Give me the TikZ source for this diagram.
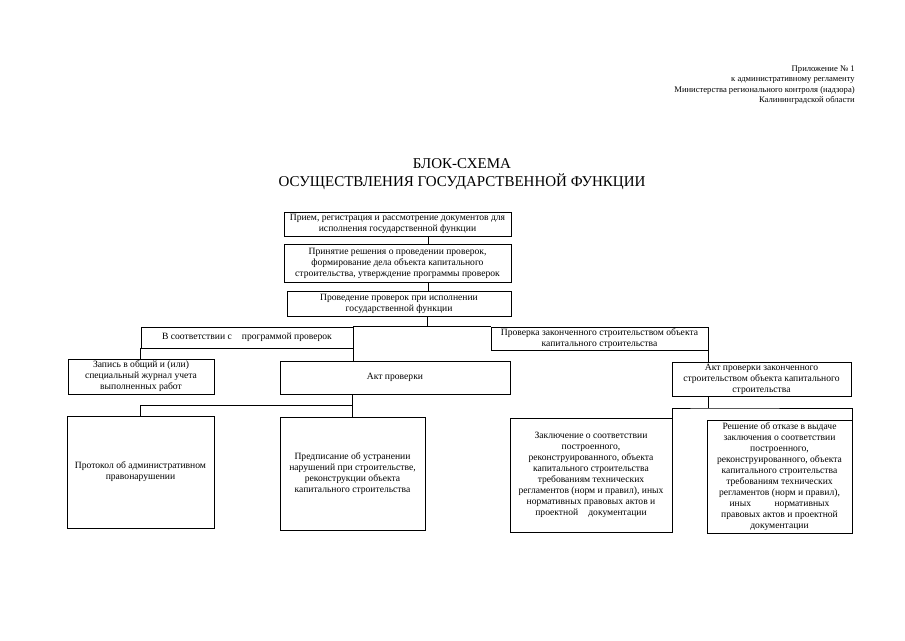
\documentclass[tikz,border=0pt]{standalone}
\usepackage{fontspec}
\setmainfont{Liberation Serif}
\usepackage{tikz}

\begin{document}
\begin{tikzpicture}[x=1pt, y=-1pt, line width=0.6pt,
  blk/.style={draw, align=center, inner sep=1pt, font=\fontsize{9.6}{11}\selectfont}]
  \useasboundingbox (0,0) rectangle (905,640);

  \node[align=right, anchor=north east, inner sep=0pt, font=\fontsize{8.6}{10.3}\selectfont]
    (hdr) at (855,65.5) {Приложение № 1\\к административному регламенту\\Министерства регионального контроля (надзора)\\Калининградской области};
  \node[align=center, font=\fontsize{15}{18}\selectfont]
    (ttl) at (462,174) {БЛОК-СХЕМА\\ОСУЩЕСТВЛЕНИЯ ГОСУДАРСТВЕННОЙ ФУНКЦИИ};

  \node[blk, minimum width=227, minimum height=24] (b1) at (397.5,224)
    {Прием, регистрация и рассмотрение документов для\\исполнения государственной функции};
  \node[blk, minimum width=227, minimum height=38] (b2) at (397.5,263)
    {Принятие решения о проведении проверок,\\формирование дела объекта капитального\\строительства, утверждение программы проверок};
  \node[blk, minimum width=224, minimum height=25] (b3) at (399,303.5)
    {Проведение проверок при исполнении\\государственной функции};

  \node[blk, minimum width=212, minimum height=21] (vs) at (247,337.5)
    {В соответствии с\hspace{0.8em} программой проверок};
  \node[blk, minimum width=217, minimum height=23] (pz) at (599.5,338.5)
    {Проверка законченного строительством объекта\\капитального строительства};

  \node[blk, minimum width=146, minimum height=35] (zap) at (141,376.5)
    {Запись в общий и (или)\\специальный журнал учета\\выполненных работ};
  \node[blk, minimum width=230, minimum height=33] (akt) at (395,377.5)
    {Акт проверки};
  \node[blk, minimum width=179, minimum height=34] (aktz) at (761.5,379)
    {Акт проверки законченного\\строительством объекта капитального\\строительства};

  \node[blk, minimum width=147, minimum height=112] (prot) at (140.5,472)
    {Протокол об административном\\правонарушении};
  \node[blk, minimum width=145, minimum height=113] (pred) at (352.5,473.5)
    {Предписание об устранении\\нарушений при строительстве,\\реконструкции объекта\\капитального строительства};
  \node[blk, minimum width=162, minimum height=114] (zakl) at (591,475)
    {Заключение о соответствии\\построенного,\\реконструированного, объекта\\капитального строительства\\требованиям технических\\регламентов (норм и правил), иных\\нормативных правовых актов и\\проектной\hspace{0.8em} документации};
  \node[blk, minimum width=145, minimum height=113] (resh) at (779.5,476.5)
    {Решение об отказе в выдаче\\заключения о соответствии\\построенного,\\реконструированного, объекта\\капитального строительства\\требованиям технических\\регламентов (норм и правил),\\иных\hspace{2.2em} нормативных\\правовых актов и проектной\\документации};

  \coordinate (fl) at (352.5,405);
  \coordinate (fr) at (708,408);

  \draw ([xshift=30.5pt]b1.south) -- ([xshift=30.5pt]b2.north);
  \draw ([xshift=30.5pt]b2.south) -- ([xshift=30.5pt]b2.south |- b3.north);
  \draw ([xshift=28.5pt]b3.south) -- ([xshift=28.5pt]b3.south |- vs.north);
  \draw (vs.north east) -- (pz.north west);
  \draw (vs.south west) -- (vs.south west |- zap.north);
  \draw (vs.south east) -- (vs.south east |- akt.north);
  \draw (pz.south east) -- (pz.south east |- aktz.north);
  \draw (pred.north |- akt.south) -- (pred.north);
  \draw (fl) -| (prot.north);
  \draw (aktz.south -| fr) -- (fr);
  \draw (zakl.north east) |- (fr) -| (resh.north east);
\end{tikzpicture}
\end{document}
